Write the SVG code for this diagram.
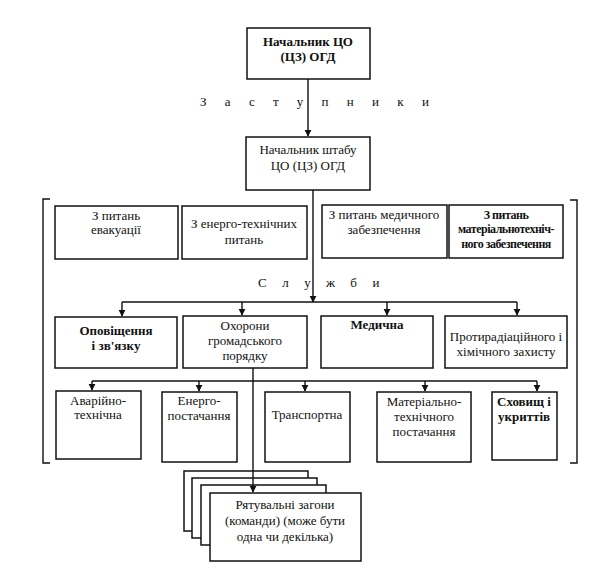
<svg xmlns="http://www.w3.org/2000/svg" width="589" height="575" viewBox="0 0 589 575">
<style>
rect{fill:#fff;stroke:#111;stroke-width:1.5}
.c line,.c path{stroke:#111;stroke-width:1.4;fill:none}
text{font-family:"Liberation Serif","Times New Roman",serif;font-size:13px;fill:#111;text-anchor:middle}
.b{font-weight:bold}
.sp{text-anchor:start}
.sm{font-size:12px;letter-spacing:-0.5px;font-weight:bold}
</style>
<defs>
<marker id="ah" viewBox="0 0 10 10" refX="9" refY="5" markerWidth="7" markerHeight="8" orient="auto" markerUnits="userSpaceOnUse">
<path d="M0,0 L10,5 L0,10 z" fill="#111"/>
</marker>
</defs>
<rect width="589" height="575" style="fill:#fff;stroke:none"/>
<g id="head">
<rect x="247" y="28" width="123" height="51"/>
<text class="b" x="308" y="46">Начальник ЦО</text>
<text class="b" x="308" y="61">(ЦЗ) ОГД</text>
</g>
<text class="sp" x="200" y="106" letter-spacing="18.3">Заступники</text>
<g id="chief">
<rect x="246" y="137" width="124" height="53"/>
<text x="308" y="154">Начальник штабу</text>
<text x="308" y="170">ЦО (ЦЗ) ОГД</text>
</g>
<g id="bracket" class="c">
<path d="M50,199 H43 V463 H50"/>
<path d="M570,200 H577 V463 H570"/>
</g>
<g id="d1"><rect x="55" y="206" width="123" height="53"/>
<text x="116" y="220">З питань</text><text x="116" y="234">евакуації</text></g>
<g id="d2"><rect x="182" y="206" width="125" height="53"/>
<text x="244" y="228">З енерго-технічних</text><text x="244" y="244">питань</text></g>
<g id="d3"><rect x="322" y="205" width="125" height="53"/>
<text x="384" y="219">З питань медичного</text><text x="384" y="234">забезпечення</text></g>
<g id="d4"><rect x="449" y="205" width="114" height="53"/>
<text class="sm" x="506" y="219">З питань</text><text class="sm" x="506" y="233">матеріальнотехніч-</text><text class="sm" x="506" y="248">ного забезпечення</text></g>
<text class="sp" x="258" y="287" letter-spacing="15.5">Служби</text>
<g id="s1"><rect x="55" y="317" width="122" height="51"/>
<text class="b" x="116" y="335">Оповіщення</text><text class="b" x="116" y="350">і зв'язку</text></g>
<g id="s2"><rect x="183" y="316" width="124" height="52"/>
<text x="245" y="330">Охорони</text><text x="245" y="345">громадського</text><text x="245" y="360">порядку</text></g>
<g id="s3"><rect x="321" y="316" width="112" height="52"/>
<text class="b" x="377" y="329">Медична</text></g>
<g id="s4"><rect x="445" y="316" width="122" height="52"/>
<text x="506" y="341">Протирадіаційного і</text><text x="506" y="356">хімічного захисту</text></g>
<g id="t1"><rect x="56" y="391" width="85" height="68"/>
<text x="98" y="405">Аварійно-</text><text x="98" y="419">технічна</text></g>
<g id="t2"><rect x="162" y="392" width="75" height="70"/>
<text x="199" y="405">Енерго-</text><text x="199" y="420">постачання</text></g>
<g id="t3"><rect x="265" y="392" width="85" height="70"/>
<text x="307" y="419">Транспортна</text></g>
<g id="t4"><rect x="377" y="392" width="94" height="70"/>
<text x="424" y="406">Матеріально-</text><text x="424" y="421">технічного</text><text x="424" y="436">постачання</text></g>
<g id="t5"><rect x="492" y="392" width="65" height="68"/>
<text class="b" x="524" y="406">Сховищ і</text><text class="b" x="524" y="421">укриттів</text></g>
<g id="rescue">
<rect x="184" y="471" width="124" height="60"/>
<rect x="192" y="478" width="125" height="60"/>
<rect x="201" y="485" width="125" height="60"/>
<rect x="210" y="493" width="151" height="68"/>
<text x="285" y="509">Рятувальні загони</text>
<text x="285" y="525">(команди) (може бути</text>
<text x="285" y="541">одна чи декілька)</text>
</g>
<g id="connectors" class="c">
<line x1="308" y1="79" x2="308" y2="136" marker-end="url(#ah)"/>
<line x1="313" y1="190" x2="313" y2="302" marker-end="url(#ah)"/>
<line x1="122" y1="302" x2="517" y2="302"/>
<line x1="122" y1="302" x2="122" y2="316" marker-end="url(#ah)"/>
<line x1="242" y1="302" x2="242" y2="315" marker-end="url(#ah)"/>
<line x1="387" y1="302" x2="387" y2="315" marker-end="url(#ah)"/>
<line x1="517" y1="302" x2="517" y2="315" marker-end="url(#ah)"/>
<line x1="253" y1="368" x2="253" y2="492" marker-end="url(#ah)"/>
<line x1="92" y1="381" x2="537" y2="381"/>
<line x1="92" y1="381" x2="92" y2="390" marker-end="url(#ah)"/>
<line x1="199" y1="381" x2="199" y2="391" marker-end="url(#ah)"/>
<line x1="305" y1="381" x2="305" y2="391" marker-end="url(#ah)"/>
<line x1="425" y1="381" x2="425" y2="391" marker-end="url(#ah)"/>
<line x1="537" y1="381" x2="537" y2="391" marker-end="url(#ah)"/>
</g>
</svg>
